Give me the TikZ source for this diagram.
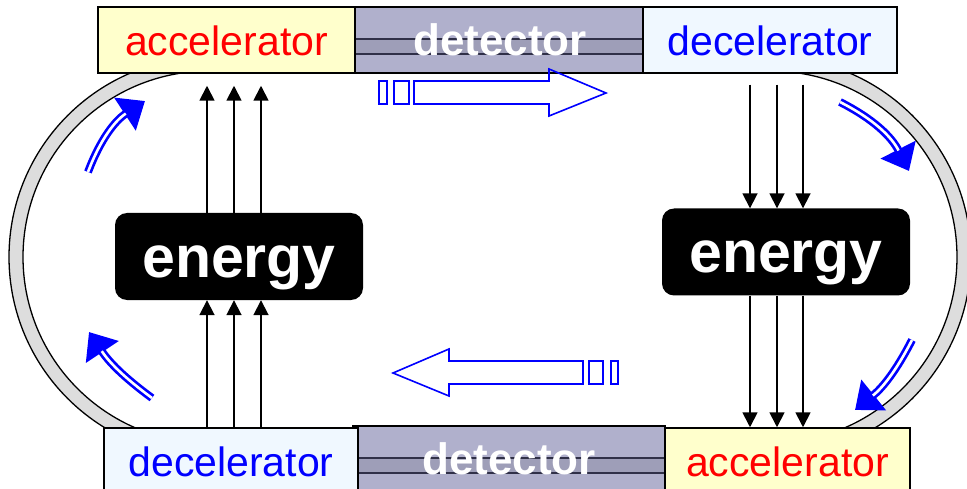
\documentclass[tikz,border=0pt]{standalone}
\usepackage{fontspec}
\setmainfont{Liberation Sans}
\usetikzlibrary{arrows.meta,calc}
\definecolor{accfill}{HTML}{FFFFCC}
\definecolor{decfill}{HTML}{F0F8FF}
\definecolor{detfill}{HTML}{B0B0CC}
\definecolor{detband}{HTML}{9E9EB8}
\definecolor{detline}{HTML}{303048}
\definecolor{ringfill}{HTML}{DDDDDD}
\newcommand{\boxfont}{\fontsize{41}{44}\selectfont}

\begin{document}
\begin{tikzpicture}[x=1pt,y=1pt,
    labelbox/.style={draw=black,line width=1.5pt,minimum height=66pt,inner sep=0pt,font=\boxfont,text height=32pt},
    accbox/.style={labelbox,fill=accfill,text=red},
    decbox/.style={labelbox,fill=decfill,text=blue},
    detbox/.style={labelbox,fill=detfill,text=white,font={\bfseries\fontsize{44}{46}\selectfont},
      path picture={
        \fill[detband] ($(path picture bounding box.north west)+(0,-32pt)$) rectangle ($(path picture bounding box.north east)+(0,-47pt)$);
        \draw[detline,line width=1.5pt] ($(path picture bounding box.north west)+(0,-32pt)$) -- ($(path picture bounding box.north east)+(0,-32pt)$);
        \draw[detline,line width=1.5pt] ($(path picture bounding box.north west)+(0,-47pt)$) -- ($(path picture bounding box.north east)+(0,-47pt)$);
      }},
    energybox/.style={fill=black,rounded corners=12pt,minimum width=248pt,minimum height=87pt,inner sep=0pt,
      text=white,font={\bfseries\fontsize{59}{60}\selectfont},text height=53pt,text depth=12pt},
    energyarrow/.style={line width=1.8pt,-{Triangle[length=15pt,width=15pt]}},
    turnarrow/.style={draw=blue,line width=8pt,-{Triangle[length=24pt,width=38pt]},
      postaction={draw=white,line width=2.6pt,-,shorten >=23pt}},
    flowbox/.style={draw=blue,line width=1.6pt,line join=miter}]
  \useasboundingbox (0,0) rectangle (967,-489);
  \clip (0,0) rectangle (967,-489);

  % ring
  \filldraw[fill=ringfill,draw=black,line width=1.3pt,even odd rule]
    (209,-57) -- (771,-57) arc[start angle=90,end angle=-90,radius=200pt] -- (209,-457) arc[start angle=270,end angle=90,radius=200pt] -- cycle
    (209,-71) -- (771,-71) arc[start angle=90,end angle=-90,radius=186pt] -- (209,-443) arc[start angle=270,end angle=90,radius=186pt] -- cycle;

  % top row
  \node[detbox,minimum width=320pt] (detT) at (500,-40) {detector};
  \node[accbox,minimum width=257pt] (accT) at (226.5,-40) {accelerator};
  \node[decbox,minimum width=254pt] (decT) at (770,-40) {decelerator};

  % bottom row
  \node[detbox,minimum width=312pt] (detB) at (509,-459) {detector};
  \node[decbox,minimum width=254pt] (decB) at (231,-461) {decelerator};
  \node[accbox,minimum width=245pt] (accB) at (787.5,-461) {accelerator};

  % energy
  \node[energybox] (eL) at (239,-256.5) {energy};
  \node[energybox] (eR) at (786,-252) {energy};

  \foreach \x in {207,234,261} {
    \draw[energyarrow,shorten >=12pt] (\x,0 |- eL.north) -- (\x,0 |- accT.south);
    \draw[energyarrow] (\x,0 |- decB.north) -- (\x,0 |- eL.south);
  }
  \foreach \x in {750,777,803} {
    \draw[energyarrow,shorten <=11pt] (\x,0 |- decT.south) -- (\x,0 |- eR.north);
    \draw[energyarrow] (\x,0 |- eR.south) -- (\x,0 |- accB.north);
  }

  % turning arrows
  \coordinate (tl0) at (88,-172);
  \coordinate (tl1) at (145,-101);
  \coordinate (tr0) at (840,-102);
  \coordinate (tr1) at (909,-171);
  \coordinate (br0) at (912,-340);
  \coordinate (br1) at (855,-410);
  \coordinate (bl0) at (152,-398);
  \coordinate (bl1) at (89,-332);
  \draw[turnarrow] (tl0) to[bend left=18] (tl1);
  \draw[turnarrow] (tr0) to[bend left=18] (tr1);
  \draw[turnarrow] (br0) to[bend left=12] (br1);
  \draw[turnarrow] (bl0) to[bend left=10] (bl1);

  % beam direction
  \draw[flowbox] (379,-81) rectangle (387,-104);
  \draw[flowbox] (394,-81) rectangle (409,-104);
  \draw[flowbox] (414,-81) -- (549,-81) -- (549,-69) -- (606,-93) -- (549,-116) -- (549,-104) -- (414,-104) -- cycle;
  \draw[flowbox] (611,-361) rectangle (618,-384);
  \draw[flowbox] (589,-361) rectangle (603,-384);
  \draw[flowbox] (583,-361) -- (449,-361) -- (449,-349) -- (393,-373) -- (449,-396) -- (449,-384) -- (583,-384) -- cycle;
\end{tikzpicture}
\end{document}
